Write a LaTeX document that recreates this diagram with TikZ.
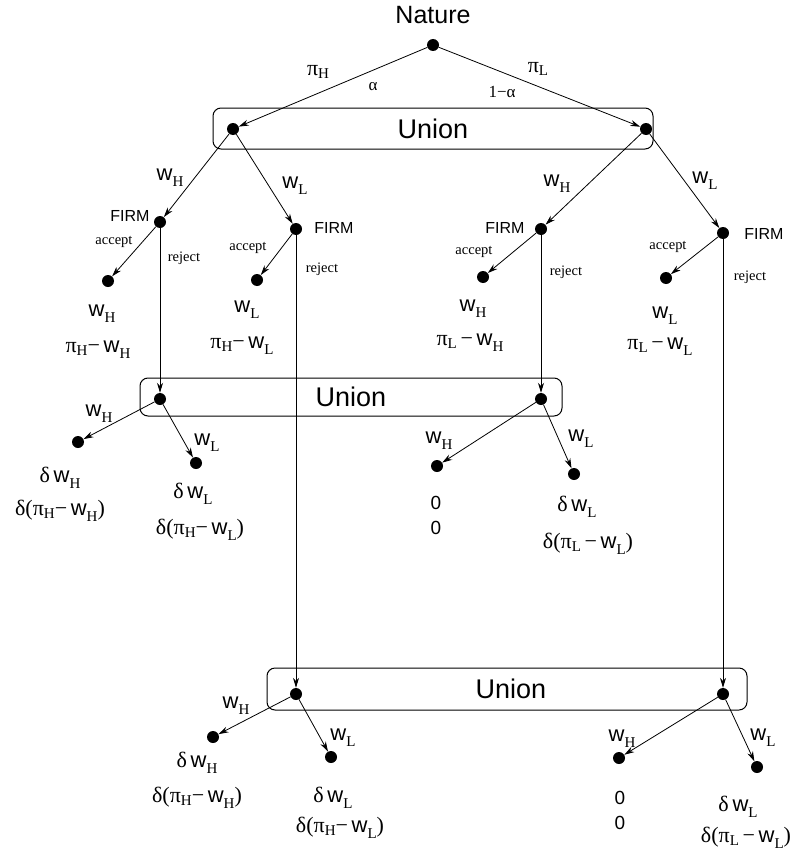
\documentclass[tikz,border=0pt]{standalone}
\usepackage{fontspec}
\setmainfont{Liberation Serif}
\setsansfont{Liberation Sans}
\usetikzlibrary{arrows.meta}

\newcommand{\sz}[1]{\fontsize{#1}{#1}\selectfont}
\newcommand{\subl}[2]{\raisebox{-#1pt}{\sz{15}\rmfamily #2}}
\newcommand{\wage}[1]{{\sffamily w}\subl{6}{#1}}
\newcommand{\prof}[1]{π\subl{3}{#1}}

\begin{document}
\begin{tikzpicture}[x=1pt,y=-1pt,
    dot/.style={circle,fill,inner sep=0pt,minimum size=12pt},
    move/.style={-{Stealth[length=10pt,width=6pt]},line width=0.8pt},
    infoset/.style={draw,rounded corners=8pt,line width=1pt,inner sep=0pt,font=\sffamily\sz{27}},
    lbl/.style={inner sep=0pt,font=\sz{22}},
    act/.style={inner sep=0pt,font=\sz{14.5}},
    firm/.style={inner sep=0pt,font=\sffamily\sz{16}}]
        \useasboundingbox (0,0) rectangle (805,851);
        % Draw the information sets
        \node[infoset,minimum width=440pt,minimum height=41pt] (set1) at (433,128.5) {Union};
        \node[infoset,minimum width=422pt,minimum height=38pt] (set2) at (351,397) {Union};
        \node[infoset,minimum width=480pt,minimum height=42pt] (set3) at (507,689) {\hspace*{8pt}Union};
        % Draw the decision nodes
        \node[dot] (nat) at (433,45) {};
        \node[dot] (u1) at (233,129) {};
        \node[dot] (u2) at (646,129) {};
        \node[dot] (fA) at (160,222) {};
        \node[dot] (fB) at (296,229) {};
        \node[dot] (fC) at (541,229) {};
        \node[dot] (fD) at (723,233) {};
        \node[dot] (u3) at (160,399) {};
        \node[dot] (u4) at (541,399) {};
        \node[dot] (u5) at (296,694) {};
        \node[dot] (u6) at (723,694) {};
        % Draw the end nodes
        \node[dot] (aA) at (108,281) {};
        \node[dot] (aB) at (257,280) {};
        \node[dot] (aC) at (483,277) {};
        \node[dot] (aD) at (666,278) {};
        \node[dot] (eA) at (78,442) {};
        \node[dot] (eB) at (196,463) {};
        \node[dot] (eC) at (437,466) {};
        \node[dot] (eD) at (574,474) {};
        \node[dot] (eE) at (213,737) {};
        \node[dot] (eF) at (331,757) {};
        \node[dot] (eG) at (619,758) {};
        \node[dot] (eH) at (757,767) {};
        % Draw the moves
        \draw[move] (nat) -- (u1);
        \draw[move] (nat) -- (u2);
        \draw[move] (u1) -- (fA);
        \draw[move] (u1) -- (fB);
        \draw[move] (u2) -- (fC);
        \draw[move] (u2) -- (fD);
        \draw[move] (fA) -- (aA);
        \draw[move] (fB) -- (aB);
        \draw[move] (fC) -- (aC);
        \draw[move] (fD) -- (aD);
        \draw[move] (fA) -- (u3);
        \draw[move] (fC) -- (u4);
        \draw[move] (fB) -- (u5);
        \draw[move] (fD) -- (u6);
        \draw[move] (u3) -- (eA);
        \draw[move] (u3) -- (eB);
        \draw[move] (u4) -- (eC);
        \draw[move] (u4) -- (eD);
        \draw[move] (u5) -- (eE);
        \draw[move] (u5) -- (eF);
        \draw[move] (u6) -- (eG);
        \draw[move] (u6) -- (eH);
        % Label the players
        \node[inner sep=0pt,font=\sffamily\sz{25}] (natlbl) at (433,15) {Nature};
        \node[firm] (firmA) at (130,216) {FIRM};
        \node[firm] (firmB) at (334,228) {FIRM};
        \node[firm] (firmC) at (505,228) {FIRM};
        \node[firm] (firmD) at (764,234) {FIRM};
        % Label the moves
        \node[lbl] (piH) at (318,72) {\prof{H}};
        \node[lbl] (piL) at (538,69) {\prof{L}};
        \node[act,font=\sz{17}] (prA) at (373,87) {α};
        \node[act,font=\sz{17}] (prB) at (502,92) {1−α};
        \node[lbl] (mA) at (170,178) {\wage{H}};
        \node[lbl] (mB) at (295,186) {\wage{L}};
        \node[lbl] (mC) at (557,184) {\wage{H}};
        \node[lbl] (mD) at (705,181) {\wage{L}};
        \node[act] (accA) at (114,242) {accept};
        \node[act] (accB) at (248,248) {accept};
        \node[act] (accC) at (474,252) {accept};
        \node[act] (accD) at (668,247) {accept};
        \node[act] (rejA) at (184,258) {reject};
        \node[act] (rejB) at (322,269) {reject};
        \node[act] (rejC) at (566,272) {reject};
        \node[act] (rejD) at (750,277) {reject};
        \node[lbl] (mE) at (99,414) {\wage{H}};
        \node[lbl] (mF) at (207,443) {\wage{L}};
        \node[lbl] (mG) at (439,441) {\wage{H}};
        \node[lbl] (mH) at (581,439) {\wage{L}};
        \node[lbl] (mI) at (236,706) {\wage{H}};
        \node[lbl] (mJ) at (343,738) {\wage{L}};
        \node[lbl] (mK) at (622,739) {\wage{H}};
        \node[lbl] (mL) at (763,738) {\wage{L}};
        % Label the payoffs
        \node[lbl] (pA1) at (102,314) {\wage{H}};
        \node[lbl] (pA2) at (98,350) {\prof{H}−\,\wage{H}};
        \node[lbl] (pB1) at (247,310) {\wage{L}};
        \node[lbl] (pB2) at (242,346) {\prof{H}−\,\wage{L}};
        \node[lbl] (pC1) at (473,309) {\wage{H}};
        \node[lbl] (pC2) at (470,343) {\prof{L}\,−\,\wage{H}};
        \node[lbl] (pD1) at (665,316) {\wage{L}};
        \node[lbl] (pD2) at (660,347) {\prof{L}\,−\,\wage{L}};
        \node[lbl] (pE1) at (60,478) {δ\,\wage{H}};
        \node[lbl] (pE2) at (60,511) {δ(\prof{H}−\,\wage{H})};
        \node[lbl] (pF1) at (193,494) {δ\,\wage{L}};
        \node[lbl] (pF2) at (200,530) {δ(\prof{H}−\,\wage{L})};
        \node[lbl,font=\sffamily\sz{19}] (pG1) at (436,503) {0};
        \node[lbl,font=\sffamily\sz{19}] (pG2) at (436,528) {0};
        \node[lbl] (pH1) at (577,507) {δ\,\wage{L}};
        \node[lbl] (pH2) at (588,544) {δ(\prof{L}\,−\,\wage{L})};
        \node[lbl] (pI1) at (197,763) {δ\,\wage{H}};
        \node[lbl] (pI2) at (197,798) {δ(\prof{H}−\,\wage{H})};
        \node[lbl] (pJ1) at (333,798) {δ\,\wage{L}};
        \node[lbl] (pJ2) at (340,828) {δ(\prof{H}−\,\wage{L})};
        \node[lbl,font=\sffamily\sz{19}] (pK1) at (620,798) {0};
        \node[lbl,font=\sffamily\sz{19}] (pK2) at (620,823) {0};
        \node[lbl] (pL1) at (738,807) {δ\,\wage{L}};
        \node[lbl] (pL2) at (746,838) {δ(\prof{L}\,−\,\wage{L})};
\end{tikzpicture}
\end{document}
